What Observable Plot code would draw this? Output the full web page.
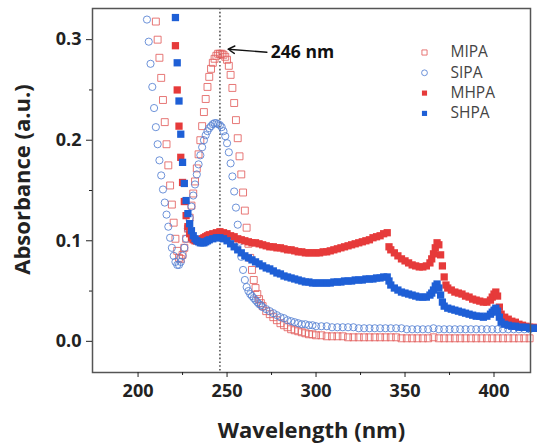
<!DOCTYPE html>
<html><head><meta charset="utf-8">
<script src="https://cdn.jsdelivr.net/npm/d3@7"></script>
<script src="https://cdn.jsdelivr.net/npm/@observablehq/plot@0.6"></script>
<style>
body{margin:0;background:#fff}
#chart{width:537px;height:447px}
</style>
</head><body><div id="chart"></div>
<script>
// Wavelength (nm), absorbance (a.u.) pairs
const MIPA = [[210,0.318],[211,0.300],[212,0.282],[213,0.262],[214,0.240],[215,0.218],[216,0.196],[217,0.175],[218,0.155],[219,0.136],[220,0.118],[221,0.102],[222,0.090],[223,0.083],[224,0.082],[225,0.086],[226,0.093],[227,0.102],[228,0.112],[229,0.123],[230,0.135],[231,0.147],[232,0.159],[233,0.172],[234,0.186],[235,0.200],[236,0.214],[237,0.228],[238,0.241],[239,0.253],[240,0.263],[241,0.271],[242,0.277],[243,0.281],[244,0.284],[245,0.286],[246,0.286],[247,0.286],[248,0.285],[249,0.283],[250,0.280],[251,0.274],[252,0.265],[253,0.252],[254,0.237],[255,0.220],[256,0.202],[257,0.184],[258,0.166],[259,0.148],[260,0.130],[261,0.113],[262,0.097],[263,0.083],[264,0.071],[265,0.061],[266,0.053],[267,0.047],[268,0.042],[269,0.038],[270,0.035],[272,0.030],[274,0.027],[276,0.024],[278,0.021],[280,0.018],[282,0.016],[284,0.014],[286,0.012],[288,0.011],[290,0.010],[292,0.009],[294,0.008],[296,0.007],[298,0.007],[300,0.006],[303,0.006],[306,0.005],[309,0.005],[312,0.005],[315,0.005],[318,0.004],[321,0.004],[324,0.004],[327,0.004],[330,0.004],[333,0.004],[336,0.004],[339,0.004],[342,0.004],[345,0.004],[348,0.003],[351,0.003],[354,0.003],[357,0.003],[360,0.003],[363,0.003],[366,0.004],[369,0.003],[372,0.003],[375,0.003],[378,0.003],[381,0.003],[384,0.003],[387,0.003],[390,0.003],[393,0.003],[396,0.003],[399,0.003],[402,0.003],[405,0.003],[408,0.003],[411,0.003],[414,0.003],[417,0.003],[420,0.003]];

const SIPA = [[205,0.320],[206,0.298],[207,0.276],[208,0.253],[209,0.232],[210,0.213],[211,0.196],[212,0.180],[213,0.165],[214,0.151],[215,0.138],[216,0.126],[217,0.114],[218,0.103],[219,0.093],[220,0.085],[221,0.079],[222,0.076],[223,0.076],[224,0.079],[225,0.085],[226,0.093],[227,0.102],[228,0.112],[229,0.123],[230,0.134],[231,0.145],[232,0.156],[233,0.166],[234,0.176],[235,0.185],[236,0.193],[237,0.200],[238,0.205],[239,0.209],[240,0.212],[241,0.214],[242,0.216],[243,0.217],[244,0.217],[245,0.216],[246,0.215],[247,0.213],[248,0.209],[249,0.204],[250,0.197],[251,0.188],[252,0.177],[253,0.164],[254,0.149],[255,0.133],[256,0.116],[257,0.099],[258,0.084],[259,0.071],[260,0.061],[261,0.054],[262,0.050],[263,0.047],[264,0.045],[265,0.043],[266,0.041],[267,0.039],[268,0.037],[269,0.036],[270,0.034],[272,0.032],[274,0.030],[276,0.028],[278,0.026],[280,0.024],[282,0.023],[284,0.021],[286,0.020],[288,0.019],[290,0.018],[292,0.017],[294,0.017],[296,0.016],[298,0.016],[300,0.015],[303,0.015],[306,0.015],[309,0.014],[312,0.014],[315,0.014],[318,0.014],[321,0.014],[324,0.013],[327,0.013],[330,0.013],[333,0.013],[336,0.013],[339,0.013],[342,0.013],[345,0.013],[348,0.013],[351,0.012],[354,0.012],[357,0.012],[360,0.012],[363,0.012],[366,0.013],[369,0.012],[372,0.012],[375,0.012],[378,0.012],[381,0.012],[384,0.012],[387,0.012],[390,0.012],[393,0.012],[396,0.012],[399,0.012],[402,0.012],[405,0.012],[408,0.012],[411,0.012],[414,0.012],[417,0.012],[420,0.012]];

const MHPA = [[221,0.294],[222,0.250],[223,0.214],[224,0.183],[225,0.158],[226,0.139],[227,0.125],[228,0.114],[229,0.107],[230,0.103],[231,0.101],[232,0.100],[233,0.100],[234,0.100],[235,0.101],[236,0.102],[237,0.103],[238,0.104],[239,0.105],[240,0.106],[242,0.107],[244,0.108],[246,0.109],[248,0.108],[250,0.107],[252,0.105],[254,0.104],[256,0.102],[258,0.101],[260,0.100],[262,0.099],[264,0.098],[266,0.098],[268,0.097],[270,0.096],[272,0.095],[274,0.094],[276,0.094],[278,0.093],[280,0.093],[282,0.092],[284,0.091],[286,0.091],[288,0.090],[290,0.089],[292,0.089],[294,0.088],[296,0.088],[298,0.088],[300,0.088],[302,0.088],[304,0.089],[306,0.089],[308,0.090],[310,0.091],[312,0.092],[314,0.093],[316,0.094],[318,0.095],[320,0.096],[322,0.097],[324,0.098],[326,0.099],[328,0.100],[330,0.101],[332,0.103],[334,0.104],[336,0.105],[338,0.107],[340,0.108],[341,0.094],[342,0.091],[344,0.088],[346,0.085],[348,0.082],[350,0.080],[352,0.078],[354,0.076],[356,0.075],[358,0.074],[360,0.074],[362,0.075],[364,0.078],[365,0.082],[366,0.087],[367,0.093],[368,0.098],[369,0.096],[370,0.086],[371,0.075],[372,0.064],[373,0.056],[374,0.053],[376,0.051],[378,0.049],[380,0.048],[382,0.047],[384,0.045],[386,0.044],[388,0.042],[390,0.041],[392,0.040],[394,0.039],[396,0.039],[398,0.041],[399,0.044],[400,0.047],[401,0.049],[402,0.045],[403,0.034],[404,0.027],[406,0.024],[408,0.022],[410,0.020],[412,0.019],[414,0.017],[416,0.016],[418,0.015],[420,0.014],[422,0.014],[424,0.013]];

const SHPA = [[221,0.322],[222,0.277],[223,0.239],[224,0.206],[225,0.178],[226,0.157],[227,0.140],[228,0.127],[229,0.117],[230,0.110],[231,0.105],[232,0.102],[233,0.100],[234,0.099],[235,0.098],[236,0.098],[237,0.098],[238,0.099],[239,0.100],[240,0.101],[242,0.102],[244,0.103],[246,0.103],[248,0.102],[250,0.100],[252,0.097],[254,0.094],[256,0.091],[258,0.088],[260,0.085],[262,0.083],[264,0.081],[266,0.079],[268,0.077],[270,0.075],[272,0.073],[274,0.072],[276,0.070],[278,0.068],[280,0.067],[282,0.065],[284,0.064],[286,0.063],[288,0.062],[290,0.061],[292,0.060],[294,0.059],[296,0.059],[298,0.058],[300,0.058],[302,0.058],[304,0.058],[306,0.058],[308,0.058],[310,0.059],[312,0.059],[314,0.059],[316,0.060],[318,0.060],[320,0.060],[322,0.061],[324,0.061],[326,0.061],[328,0.062],[330,0.062],[332,0.062],[334,0.063],[336,0.063],[338,0.064],[340,0.064],[341,0.060],[342,0.056],[344,0.053],[346,0.051],[348,0.049],[350,0.048],[352,0.047],[354,0.046],[356,0.045],[358,0.044],[360,0.044],[362,0.044],[364,0.046],[365,0.048],[366,0.051],[367,0.055],[368,0.057],[369,0.053],[370,0.046],[371,0.039],[372,0.035],[374,0.033],[376,0.032],[378,0.031],[380,0.030],[382,0.029],[384,0.028],[386,0.027],[388,0.026],[390,0.025],[392,0.025],[394,0.024],[396,0.025],[398,0.027],[399,0.029],[400,0.031],[401,0.033],[402,0.030],[403,0.024],[404,0.019],[406,0.017],[408,0.016],[410,0.015],[412,0.015],[414,0.014],[416,0.014],[418,0.014],[420,0.013],[422,0.013],[424,0.013]];

const xTicks = [200, 250, 300, 350, 400];
const xMinorTicks = [225, 275, 325, 375];
const yTicks = [0.0, 0.1, 0.2, 0.3];
const yMinorTicks = [0.05, 0.15, 0.25];
const peakWavelength = [246];
const peakLabel = [{text: "246 nm", x: 274.6, y: 0.287, x1: 272.4, y1: 0.2875, x2: 250.6, y2: 0.2905}];

const seriesStyles = [
  {name: "MIPA", data: MIPA, symbol: "square", r: 3.9, fill: "none", stroke: "#e3605f", strokeWidth: 1, opacity: 0.85},
  {name: "SIPA", data: SIPA, symbol: "circle", r: 3.6, fill: "none", stroke: "#5580d2", strokeWidth: 1, opacity: 0.85},
  {name: "MHPA", data: MHPA, symbol: "square", r: 4.1, fill: "#e63a3a", stroke: "none", strokeWidth: 0, opacity: 1},
  {name: "SHPA", data: SHPA, symbol: "square", r: 4.1, fill: "#1e5fd6", stroke: "none", strokeWidth: 0, opacity: 1}
];

const font = "'Open Sans', 'DejaVu Sans', sans-serif";

const dataMarks = seriesStyles.map(s =>
  Plot.dot(s.data, {x: d => d[0], y: d => d[1], symbol: s.symbol, r: s.r, fill: s.fill, stroke: s.stroke, strokeWidth: s.strokeWidth, opacity: s.opacity})
);

const legendMarks = seriesStyles.flatMap((s, i) => [
  Plot.dot([s.name], {frameAnchor: "top-right", dx: -106, dy: 44 + i * 20.3, symbol: s.symbol, r: 2.9, fill: s.fill, stroke: s.stroke, strokeWidth: s.strokeWidth, opacity: s.opacity}),
  Plot.text([s.name], {frameAnchor: "top-right", dx: -80, dy: 44 + i * 20.3, text: d => d, textAnchor: "start", lineAnchor: "middle", fontSize: 15.5, fill: "#444"})
]);

const chart = Plot.plot({
  width: 537, height: 447,
  marginLeft: 92, marginRight: 7, marginTop: 8, marginBottom: 75,
  style: {fontFamily: font, background: "#fff", color: "#222"},
  x: {domain: [174.4, 420.5]},
  y: {domain: [-0.031, 0.331]},
  marks: [
    Plot.ruleX(peakWavelength, {stroke: "#555", strokeWidth: 1.6, strokeDasharray: "1.6,2.2"}),
    ...dataMarks,
    Plot.frame({stroke: "#555", strokeWidth: 1.5}),
    Plot.axisX({ticks: xTicks, tickSize: 5, tickPadding: 7, fontSize: 18, fontWeight: "bold", label: null, tickFormat: d => String(d)}),
    Plot.axisX({ticks: xMinorTicks, tickSize: 3, tickFormat: () => "", label: null}),
    Plot.axisY({ticks: yTicks, tickSize: 6, tickPadding: 5, fontSize: 18, fontWeight: "bold", label: null, tickFormat: d3.format(".1f")}),
    Plot.axisY({ticks: yMinorTicks, tickSize: 3, tickFormat: () => "", label: null}),
    Plot.arrow(peakLabel, {x1: "x1", y1: "y1", x2: "x2", y2: "y2", stroke: "#111", strokeWidth: 1.4, headLength: 8}),
    Plot.text(peakLabel, {x: "x", y: "y", text: "text", textAnchor: "start", fontSize: 17.5, fontWeight: "bold", fill: "#111"}),
    ...legendMarks,
    Plot.text(["Wavelength (nm)"], {frameAnchor: "bottom", dy: 58, text: d => d, textAnchor: "middle", lineAnchor: "middle", fontSize: 22, fontWeight: "bold", fill: "#222"}),
    Plot.text(["Absorbance (a.u.)"], {frameAnchor: "left", dx: -70, dy: -11, rotate: -90, text: d => d, textAnchor: "middle", lineAnchor: "middle", fontSize: 22, fontWeight: "bold", fill: "#222"})
  ]
});
document.getElementById("chart").appendChild(chart);
</script>
</body></html>
